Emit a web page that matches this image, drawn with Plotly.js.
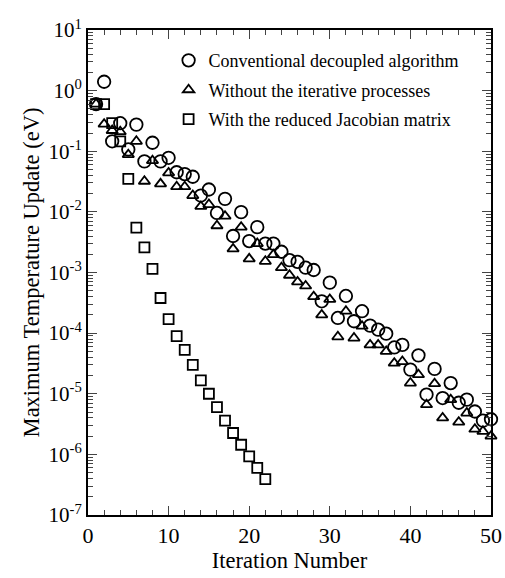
<!DOCTYPE html>
<html><head><meta charset="utf-8">
<script src="https://cdn.plot.ly/plotly-3.0.1.min.js"></script>
<style>html,body{margin:0;padding:0;background:#fff;}#chart{width:505px;height:578px;}</style>
</head><body><div id="chart"></div>
<script>
const convX = [1,2,3,4,5,6,7,8,9,10,11,12,13,14,15,16,17,18,19,20,21,22,23,24,25,26,27,28,29,30,31,32,33,34,35,36,37,38,39,40,41,42,43,44,45,46,47,48,49,50];
const convY = [0.6,1.4,0.146,0.29,0.107,0.275,0.068,0.138,0.068,0.078,0.045,0.042,0.038,0.0186,0.0234,0.0096,0.0164,0.0040,0.0099,0.0033,0.0056,0.003,0.003,0.0022,0.0016,0.0015,0.0012,0.0011,3.35e-4,6.8e-4,1.78e-4,4.1e-4,1.57e-4,2.3e-4,1.33e-4,1.14e-4,9.8e-5,5.8e-5,6.4e-5,2.5e-5,4.3e-5,9.7e-6,2.57e-5,8.5e-6,1.5e-5,7.1e-6,8.0e-6,5.1e-6,3.6e-6,3.8e-6];
const woX = [1,2,3,4,5,6,7,8,9,10,11,12,13,14,15,16,17,18,19,20,21,22,23,24,25,26,27,28,29,30,31,32,33,34,35,36,37,38,39,40,41,42,43,44,45,46,47,48,49,50];
const woY = [0.6,0.28,0.22,0.21,0.088,0.146,0.032,0.07,0.029,0.044,0.026,0.026,0.0186,0.0123,0.0132,0.0059,0.0085,0.00245,0.0056,0.00168,0.003,0.00153,0.00197,0.0012,9e-4,7e-4,6e-4,4e-4,2.0e-4,3.6e-4,8.7e-5,2.3e-4,8.3e-5,1.3e-4,6.4e-5,6.4e-5,5.0e-5,3.2e-5,3.4e-5,1.5e-5,2.06e-5,6.6e-6,1.47e-5,4.0e-6,8.0e-6,3.4e-6,4.8e-6,2.6e-6,2.4e-6,2.0e-6];
const rjX = [1,2,3,4,5,6,7,8,9,10,11,12,13,14,15,16,17,18,19,20,21,22];
const rjY = [0.6,0.6,0.29,0.146,0.035,0.0055,0.0026,0.00115,3.8e-4,1.7e-4,8.9e-5,5.3e-5,3.0e-5,1.66e-5,1.0e-5,6.0e-6,3.6e-6,2.25e-6,1.44e-6,9.3e-7,6.0e-7,3.9e-7];
const names = ['Conventional decoupled algorithm','Without the iterative processes','With the reduced Jacobian matrix'];
const xTickVals = [0,10,20,30,40,50];
const yTickVals = [1e-7,1e-6,1e-5,1e-4,1e-3,1e-2,1e-1,1,10];
const yTickText = ['10<sup>-7</sup>','10<sup>-6</sup>','10<sup>-5</sup>','10<sup>-4</sup>','10<sup>-3</sup>','10<sup>-2</sup>','10<sup>-1</sup>','10<sup>0</sup>','10<sup>1</sup>'];
const xMinorVals = [2,4,6,8,12,14,16,18,22,24,26,28,32,34,36,38,42,44,46,48];
const yMinorVals = [];
for (let e = -7; e < 1; e++) { for (let m = 2; m <= 9; m++) { yMinorVals.push(m * Math.pow(10, e)); } }

const mk = (sym, size) => ({symbol: sym, size: size, color: '#000', line: {color: '#000', width: 1.8}});
const data = [
  {x: convX, y: convY, name: names[0], mode: 'markers', type: 'scatter', legendgroup: 'a', cliponaxis: false, marker: mk('circle-open', 12.5)},
  {x: woX, y: woY, name: names[1], mode: 'markers', type: 'scatter', legendgroup: 'b', cliponaxis: false, marker: mk('triangle-up-open', 10)},
  {x: rjX, y: rjY, name: names[2], mode: 'markers', type: 'scatter', legendgroup: 'c', cliponaxis: false, marker: mk('square-open', 10)}
];
const font = 'Liberation Serif, Times New Roman, serif';
const layout = {
  width: 505, height: 578,
  margin: {l: 88, r: 14, t: 30, b: 63},
  paper_bgcolor: '#fff', plot_bgcolor: '#fff',
  font: {family: font, color: '#000', size: 18},
  showlegend: true,
  legend: {x: 0.2, y: 0.975, xanchor: 'left', yanchor: 'top', bgcolor: 'rgba(0,0,0,0)',
    font: {family: font, size: 18, color: '#000'}, traceorder: 'grouped', tracegroupgap: 3, itemwidth: 30},
  xaxis: {range: [0, 50], tickvals: xTickVals, ticks: 'inside', ticklen: 9, tickwidth: 1.2,
    showline: true, linewidth: 2, linecolor: '#000', mirror: 'allticks', showgrid: false, zeroline: false,
    tickfont: {size: 22}, minor: {tickmode: 'array', tickvals: xMinorVals, ticks: 'inside', ticklen: 5, tickwidth: 1, showgrid: false},
    title: {text: 'Iteration Number', font: {size: 22.5}, standoff: 5}},
  yaxis: {type: 'log', range: [-7, 1], tickvals: yTickVals, ticktext: yTickText, ticks: 'inside', ticklen: 9, tickwidth: 1.2,
    showline: true, linewidth: 2, linecolor: '#000', mirror: 'allticks', showgrid: false, zeroline: false,
    tickfont: {size: 21}, minor: {tickmode: 'array', tickvals: yMinorVals, ticks: 'inside', ticklen: 5, tickwidth: 1, showgrid: false},
    title: {text: 'Maximum Temperature Update (eV)', font: {size: 22.5}, standoff: 3}}
};
Plotly.newPlot('chart', data, layout, {displayModeBar: false, staticPlot: true});
</script></body></html>
